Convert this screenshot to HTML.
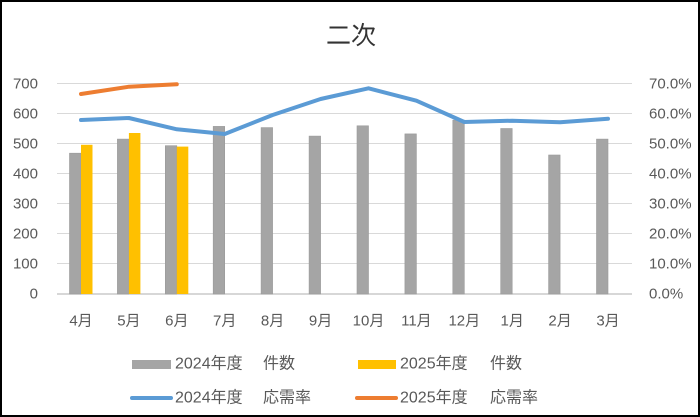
<!DOCTYPE html>
<html><head><meta charset="utf-8"><style>
html,body{margin:0;padding:0;background:#fff;}
svg{display:block;}
text{font-family:"Liberation Sans","Noto Sans CJK JP",sans-serif;fill:#595959;}
</style></head><body>
<svg width="700" height="417" viewBox="0 0 700 417" xmlns="http://www.w3.org/2000/svg">
<rect x="1" y="1" width="698" height="415" fill="#fff" stroke="#000" stroke-width="2"/>
<text x="351" y="44" font-size="25" text-anchor="middle" style="fill:#333">二次</text>
<g stroke="#d9d9d9" stroke-width="1">
<line x1="57" x2="632" y1="83.5" y2="83.5"/>
<line x1="57" x2="632" y1="113.5" y2="113.5"/>
<line x1="57" x2="632" y1="143.5" y2="143.5"/>
<line x1="57" x2="632" y1="173.5" y2="173.5"/>
<line x1="57" x2="632" y1="203.5" y2="203.5"/>
<line x1="57" x2="632" y1="233.5" y2="233.5"/>
<line x1="57" x2="632" y1="263.5" y2="263.5"/>
</g>
<line x1="57" x2="632" y1="294" y2="294" stroke="#bfbfbf" stroke-width="1.2"/>
<g font-size="15" text-anchor="end" dominant-baseline="central">
<text x="38" y="84">700</text><text x="38" y="114">600</text><text x="38" y="144">500</text><text x="38" y="174">400</text><text x="38" y="204">300</text><text x="38" y="234">200</text><text x="38" y="264">100</text><text x="38" y="294">0</text>
</g>
<g font-size="15" text-anchor="start" dominant-baseline="central">
<text x="649" y="84">70.0%</text><text x="649" y="114">60.0%</text><text x="649" y="144">50.0%</text><text x="649" y="174">40.0%</text><text x="649" y="204">30.0%</text><text x="649" y="234">20.0%</text><text x="649" y="264">10.0%</text><text x="649" y="294">0.0%</text>
</g>
<g fill="#a5a5a5" stroke="#9a9a9a" stroke-width="0.6">
<rect x="69.5" y="153.2" width="11.5" height="140.8"/>
<rect x="117.4" y="139.1" width="11.5" height="154.9"/>
<rect x="165.3" y="145.7" width="11.5" height="148.3"/>
<rect x="213.2" y="126.4" width="11.5" height="167.6"/>
<rect x="261.1" y="127.6" width="11.5" height="166.4"/>
<rect x="309.1" y="136.1" width="11.5" height="157.9"/>
<rect x="357.0" y="125.8" width="11.5" height="168.2"/>
<rect x="404.9" y="133.9" width="11.5" height="160.1"/>
<rect x="452.8" y="120.1" width="11.5" height="173.9"/>
<rect x="500.7" y="128.5" width="11.5" height="165.5"/>
<rect x="548.6" y="155.0" width="11.5" height="139.0"/>
<rect x="596.5" y="139.1" width="11.5" height="154.9"/>
</g>
<g fill="#ffc000">
<rect x="81.0" y="144.8" width="11.5" height="149.2"/>
<rect x="128.9" y="133.0" width="11.5" height="161.0"/>
<rect x="176.8" y="146.6" width="11.5" height="147.4"/>
</g>
<polyline fill="none" stroke="#5b9bd5" stroke-width="4" stroke-linecap="round" stroke-linejoin="round"
points="81,120 128.9,118 176.8,129.3 224.7,134 272.6,115 320.6,99 368.5,88.3 416.4,100.7 464.3,122 512.2,120.7 560.1,122.3 608,118.7"/>
<polyline fill="none" stroke="#ed7d31" stroke-width="4" stroke-linecap="round" stroke-linejoin="round"
points="81,94 128.9,86.7 176.8,84.3"/>
<g font-size="15" text-anchor="middle" dominant-baseline="central">
<text x="81" y="321">4月</text><text x="128.9" y="321">5月</text><text x="176.8" y="321">6月</text><text x="224.7" y="321">7月</text><text x="272.6" y="321">8月</text><text x="320.6" y="321">9月</text><text x="368.5" y="321">10月</text><text x="416.4" y="321">11月</text><text x="464.3" y="321">12月</text><text x="512.2" y="321">1月</text><text x="560.1" y="321">2月</text><text x="608" y="321">3月</text>
</g>
<rect x="132" y="360" width="39" height="9" fill="#a5a5a5"/>
<rect x="358" y="360" width="38" height="9" fill="#ffc000"/>
<line x1="132" x2="171" y1="398" y2="398" stroke="#5b9bd5" stroke-width="4" stroke-linecap="round"/>
<line x1="357" x2="396" y1="398" y2="398" stroke="#ed7d31" stroke-width="4" stroke-linecap="round"/>
<g font-size="16" dominant-baseline="central">
<text x="175" y="364">2024年度</text><text x="263" y="364">件数</text>
<text x="400" y="364">2025年度</text><text x="490" y="364">件数</text>
<text x="175" y="398">2024年度</text><text x="263" y="398">応需率</text>
<text x="400" y="398">2025年度</text><text x="490" y="398">応需率</text>
</g>
</svg>
</body></html>
